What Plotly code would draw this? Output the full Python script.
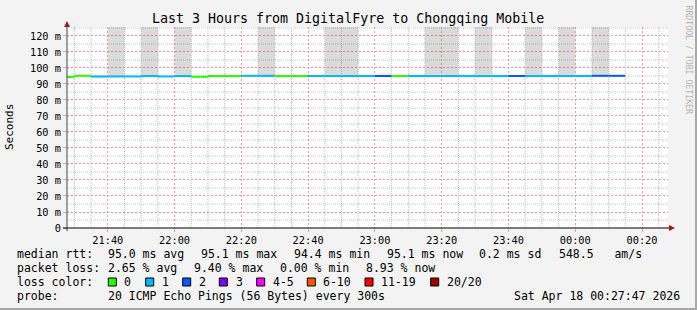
import plotly.graph_objects as go
import pandas as pd

# ---------------- data ----------------
title_text = "Last 3 Hours from DigitalFyre to Chongqing Mobile"
range_start = "2026-04-17 21:27:47"
range_end = "2026-04-18 00:27:47"

interval_starts = [
    "2026-04-17 21:25", "2026-04-17 21:30", "2026-04-17 21:35", "2026-04-17 21:40",
    "2026-04-17 21:45", "2026-04-17 21:50", "2026-04-17 21:55", "2026-04-17 22:00",
    "2026-04-17 22:05", "2026-04-17 22:10", "2026-04-17 22:15", "2026-04-17 22:20",
    "2026-04-17 22:25", "2026-04-17 22:30", "2026-04-17 22:35", "2026-04-17 22:40",
    "2026-04-17 22:45", "2026-04-17 22:50", "2026-04-17 22:55", "2026-04-17 23:00",
    "2026-04-17 23:05", "2026-04-17 23:10", "2026-04-17 23:15", "2026-04-17 23:20",
    "2026-04-17 23:25", "2026-04-17 23:30", "2026-04-17 23:35", "2026-04-17 23:40",
    "2026-04-17 23:45", "2026-04-17 23:50", "2026-04-17 23:55", "2026-04-18 00:00",
    "2026-04-18 00:05", "2026-04-18 00:10",
]
median_ms = [94.4, 95.1, 94.6, 94.7, 94.7, 95.0, 94.7, 95.0,
             94.5, 95.0, 95.0, 95.1, 95.1, 95.0, 95.0, 95.0,
             95.0, 95.0, 95.0, 95.0, 95.0, 95.0, 95.0, 95.0,
             95.0, 95.0, 95.0, 95.0, 95.0, 95.0, 95.0, 95.0,
             95.1, 95.1]
loss_count = [0, 0, 1, 1, 1, 1, 1, 1,
              0, 0, 0, 1, 1, 0, 0, 1,
              1, 1, 1, 2, 0, 1, 1, 1,
              1, 1, 1, 2, 1, 1, 1, 1,
              2, 2]
# smoke (ping spread) per interval, ms; None = no visible smoke
smoke_lo_ms = [None, None, 94.6, 94.4, None, 94.4, None, 94.4,
               None, None, None, None, 94.4, None, None, None,
               94.6, 94.6, None, 94.9, None, None, 94.6, 94.6,
               None, 94.6, None, None, 94.6, None, 94.6, None,
               94.6, None]
smoke_hi_ms = [None, None, 95.5, 200, None, 200, None, 200,
               None, None, None, None, 200, None, None, None,
               200, 200, None, 95.9, None, None, 200, 200,
               None, 200, None, None, 200, None, 200, None,
               200, None]

y_tick_ms = [0, 10, 20, 30, 40, 50, 60, 70, 80, 90, 100, 110, 120]
y_tick_text = ["0", "10 m", "20 m", "30 m", "40 m", "50 m", "60 m", "70 m",
               "80 m", "90 m", "100 m", "110 m", "120 m"]
y_max_ms = 125.6

loss_labels = ["0", "1", "2", "3", "4-5", "6-10", "11-19", "20/20"]
loss_colors = ["#26ff00", "#00b8ff", "#0059ff", "#7e00ff", "#ff00ff",
               "#ff5500", "#ff0000", "#a10000"]

median_rtt_items = ["95.0 ms avg", "95.1 ms max", "94.4 ms min",
                    "95.1 ms now", "0.2 ms sd", "548.5   am/s"]
packet_loss_items = ["2.65 % avg", "9.40 % max", "0.00 % min", "8.93 % now"]
probe_text = "20 ICMP Echo Pings (56 Bytes) every 300s"
timestamp_text = "Sat Apr 18 00:27:47 2026"

# ---------------- layout helpers (pixel -> paper) ----------------
W, H = 697, 310
PL, PR, PT, PB = 67, 668, 27, 228


def px(x):
    return (x - PL) / (PR - PL)


def py(y):
    return (PB - y) / (PB - PT)


MONO = "DejaVu Sans Mono"
MAJOR = "#f59a9a"
MINOR = "#c4c4c4"
MAJOR_DASH = "2px,2px"
MINOR_DASH = "1px,1px"

fig = go.Figure()

# smoke bars, semi-transparent so the grid shows through
sx, sbase, sh = [], [], []
for t, lo, hi in zip(interval_starts, smoke_lo_ms, smoke_hi_ms):
    if lo is None:
        continue
    sx.append(pd.Timestamp(t) + pd.Timedelta(seconds=150))
    sbase.append(lo / 1000.0)
    sh.append((hi - lo) / 1000.0)
fig.add_trace(go.Bar(x=sx, y=sh, base=sbase, width=300000,
                     marker=dict(color="rgba(0,0,0,0.14)", line=dict(width=0)),
                     hoverinfo="skip"))

# median line coloured by loss
for lvl, color in enumerate(loss_colors):
    xs, ys = [], []
    for t, v, l in zip(interval_starts, median_ms, loss_count):
        if l != lvl:
            continue
        t0 = pd.Timestamp(t)
        xs += [t0, t0 + pd.Timedelta(minutes=5), None]
        ys += [v / 1000.0, v / 1000.0, None]
    if xs:
        fig.add_trace(go.Scatter(x=xs, y=ys, mode="lines",
                                 line=dict(color=color, width=2),
                                 hoverinfo="skip"))

annotations = []
shapes = []

# minor grid (every 5 min / 5 ms, skipping major positions), below the major grid
minor_x = [t for t in pd.date_range("2026-04-17 21:30", "2026-04-18 00:25", freq="5min")
           if t.minute % 20 != 0]
minor_y = [(5 + 10 * k) / 1000.0 for k in range(13)]
for t in minor_x:
    shapes.append(dict(type="line", xref="x", yref="paper", x0=t, x1=t, y0=0, y1=1,
                       layer="below", line=dict(color=MINOR, width=1, dash=MINOR_DASH)))
for v in minor_y:
    shapes.append(dict(type="line", xref="paper", yref="y", x0=0, x1=1, y0=v, y1=v,
                       layer="below", line=dict(color=MINOR, width=1, dash=MINOR_DASH)))


def text(x, y, s, size=11.5, color="#000000", anchor="left", angle=0, yanchor="middle"):
    annotations.append(dict(x=px(x), y=py(y), xref="paper", yref="paper",
                            text=s, showarrow=False, xanchor=anchor, yanchor=yanchor,
                            textangle=angle, borderpad=0,
                            font=dict(family=MONO, size=size, color=color)))


# title
text(348, 19, title_text, size=13.3, anchor="center")
# y label
text(10, 127, "Seconds", size=11, anchor="center", angle=-90)
# rrdtool credit
text(688, 4, "RRDTOOL / TOBI OETIKER", size=8.2, color="#b4b4b4",
     anchor="center", angle=90, yanchor="top")

# legend row 1
text(16, 254, "median rtt:")
for s, x in zip(median_rtt_items, [107.3, 200, 293.3, 385.7, 478.3, 558.3]):
    text(x, 254, s)
# row 2
text(16, 268, "packet loss:")
for s, x in zip(packet_loss_items, [107.3, 193, 279.3, 365]):
    text(x, 268, s)
# row 3
text(16, 282, "loss color:")
sw_x = [108.3, 145.7, 182.7, 219.3, 256.7, 307.3, 365, 430.7]
lab_x = [123.3, 161, 198.3, 235, 271.7, 321.7, 380, 445.7]
for lab, col, x0, xl in zip(loss_labels, loss_colors, sw_x, lab_x):
    shapes.append(dict(type="rect", xref="paper", yref="paper",
                       x0=px(x0), x1=px(x0 + 8), y0=py(286), y1=py(278),
                       fillcolor=col, line=dict(color="#000000", width=1)))
    text(xl, 282, lab)
# row 4
text(16, 296, "probe:")
text(107.3, 296, probe_text)
text(513.3, 296, timestamp_text)

# axis lines, extensions and arrows
shapes.append(dict(type="line", xref="paper", yref="paper",
                   x0=px(67), x1=px(67), y0=py(231), y1=py(24),
                   line=dict(color="#404040", width=1)))
shapes.append(dict(type="line", xref="paper", yref="paper",
                   x0=px(63), x1=px(670), y0=py(228), y1=py(228),
                   line=dict(color="#000000", width=1)))
shapes.append(dict(type="path", xref="paper", yref="paper",
                   path=f"M {px(64)} {py(27)} L {px(70)} {py(27)} L {px(67)} {py(21)} Z",
                   fillcolor="#9b1c1c", line=dict(width=0)))
shapes.append(dict(type="path", xref="paper", yref="paper",
                   path=f"M {px(669)} {py(225)} L {px(669)} {py(231)} L {px(675)} {py(228)} Z",
                   fillcolor="#9b1c1c", line=dict(width=0)))
# canvas frame (right / bottom shadow)
shapes.append(dict(type="line", xref="paper", yref="paper",
                   x0=px(696), x1=px(696), y0=py(0), y1=py(310),
                   line=dict(color="#a8a8a8", width=2)))
shapes.append(dict(type="line", xref="paper", yref="paper",
                   x0=px(0), x1=px(697), y0=py(309), y1=py(309),
                   line=dict(color="#a8a8a8", width=2)))

fig.update_layout(
    width=W, height=H,
    margin=dict(l=PL, r=W - PR, t=PT, b=H - PB, pad=0),
    paper_bgcolor="#f3f3f3", plot_bgcolor="#ffffff",
    showlegend=False, barmode="overlay",
    annotations=annotations, shapes=shapes,
    xaxis=dict(type="date", range=[range_start, range_end],
               tick0="2026-04-17 21:40", dtick=20 * 60 * 1000, tickformat="%H:%M",
               showgrid=True, gridcolor=MAJOR, griddash=MAJOR_DASH, gridwidth=1,
               showline=False, zeroline=False,
               ticks="outside", ticklen=3, tickcolor=MAJOR,
               tickfont=dict(family=MONO, size=10.3, color="#000000"),
               fixedrange=True),
    yaxis=dict(range=[0, y_max_ms / 1000.0],
               tickmode="array", tickvals=[v / 1000.0 for v in y_tick_ms],
               ticktext=y_tick_text,
               showgrid=True, gridcolor=MAJOR, griddash=MAJOR_DASH, gridwidth=1,
               showline=False, zeroline=False,
               ticks="outside", ticklen=3, tickcolor=MAJOR,
               tickfont=dict(family=MONO, size=10.3, color="#000000"),
               fixedrange=True),
)

fig.write_html("out.html", config={"displayModeBar": False})
